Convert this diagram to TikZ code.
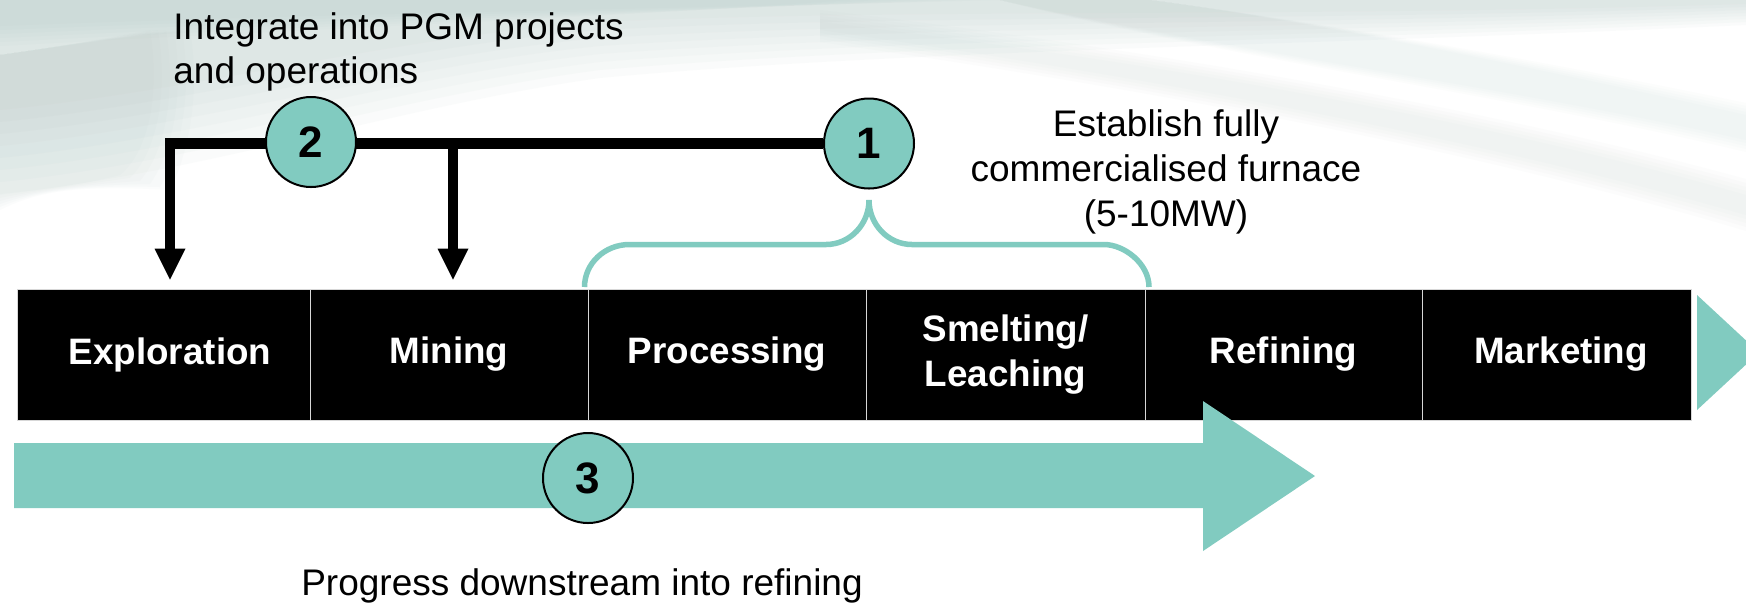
\documentclass[tikz,border=0pt]{standalone}
\usepackage{fontspec}
\setmainfont{Liberation Sans}
\usetikzlibrary{arrows.meta}
\definecolor{teal1}{RGB}{129,203,192}
\definecolor{bgc}{RGB}{170,194,190}
\definecolor{cellline}{RGB}{215,215,215}
\pgfdeclarelayer{back}
\pgfdeclarelayer{lines}
\pgfsetlayers{back,lines,main}
\begin{document}
\begin{tikzpicture}[x=0.5pt,y=-0.5pt,
  cell/.style={rectangle, fill=black, draw=cellline, line width=0.5pt, inner sep=0pt,
    minimum height=65.5pt, text=white, align=center,
    font=\fontsize{18.4}{22.5}\selectfont\bfseries},
  num/.style={circle, fill=teal1, draw=black, line width=1pt, minimum size=45pt,
    inner sep=0pt, font=\fontsize{22}{22}\selectfont\bfseries},
  caption/.style={inner sep=0pt, font=\fontsize{18.5}{22.3}\selectfont},
  thickline/.style={line width=5.5pt},
  droparrow/.style={line width=5pt, shorten >=4.5pt,
    -{Triangle[length=15.5pt,width=15.5pt,line width=0pt]}},
  bracepath/.style={draw=teal1, line width=2.75pt},
  haze/.style={fill=bgc, opacity=0.05}
]
\useasboundingbox (0,0) rectangle (1746,602);
\clip (0,0) rectangle (1746,602);

% soft background swoosh
\begin{pgfonlayer}{back}
\fill[white] (0,0) rectangle (1746,602);
\foreach \k in {0,...,7} {
  \fill[haze] (0,0) -- (1746,0) -- (1746,4+3*\k)
    .. controls (1300,18+4*\k) and (900,8+6*\k) .. (600,22+8*\k)
    .. controls (400,36+10*\k) and (200,90+12*\k) .. (0,110+12*\k) -- cycle;
}
\foreach \k in {0,...,5} {
  \fill[haze] (0,0) -- (1000-30*\k,0)
    .. controls (700-20*\k,8+2*\k) and (300,14+3*\k) .. (0,26+4*\k) -- cycle;
}
\foreach \k in {0,...,5} {
  \fill[haze, opacity=0.04] (0,55) .. controls (50,48) and (100,40) .. (150+8*\k,30)
    .. controls (160+8*\k,90) and (150+8*\k,150) .. (120+10*\k,175+3*\k)
    .. controls (80,185) and (40,190) .. (0,195+3*\k) -- cycle;
}
\foreach \k in {0,...,4} {
  \fill[haze, opacity=0.035] (820,30+3*\k) .. controls (1100,70+3*\k) and (1450,130+3*\k) .. (1746,215+4*\k)
    -- (1746,195-4*\k) .. controls (1450,110-3*\k) and (1100,55-3*\k) .. (820,22-3*\k) -- cycle;
  \fill[haze, opacity=0.03] (1000,0) .. controls (1250,55+2*\k) and (1500,85+2*\k) .. (1746,140+3*\k)
    -- (1746,115-3*\k) .. controls (1500,60-2*\k) and (1300,20) .. (1150,0) -- cycle;
}
\end{pgfonlayer}

% value chain cells
\node[cell, minimum width=146.5pt] (c1) at (163.5,354.5) {\hspace*{6.5pt}Exploration};
\node[cell, minimum width=139pt]   (c2) at (449,354.5)   {Mining};
\node[cell, minimum width=139pt]   (c3) at (727,354.5)   {Processing};
\node[cell, minimum width=139.5pt] (c4) at (1005.5,354.5) {Smelting/\\Leaching};
\node[cell, minimum width=138.5pt] (c5) at (1283.5,354.5) {Refining};
\node[cell, minimum width=134.5pt] (c6) at (1556.5,354.5) {\hspace*{4.5pt}Marketing};

% right chevron
\fill[teal1] (1697,295) -- (1759,352.5) -- (1697,410) -- cycle;

% big downstream arrow
\fill[teal1] (14,443) -- (1203,443) -- (1203,401) -- (1315,476) -- (1203,551)
  -- (1203,508) -- (14,508) -- cycle;

% numbered circles
\node[num] (n2) at (311,142) {2};
\node[num] (n1) at (869,143.5) {1};
\node[num] (n3) at (588,478) {3};

% T-line with drop arrows
\coordinate (j1) at (170,143.5);
\coordinate (j2) at (453,143.5);
\coordinate (hl) at (165,143.5);
\begin{pgfonlayer}{lines}
\draw[thickline] (hl) -- (n1.west);
\draw[droparrow] (j1) -- (j1 |- c1.north);
\draw[droparrow] (j2) -- (j2 |- c2.north);
% brace over Processing and Smelting
\draw[bracepath] (584.5,287) .. controls (584.5,263.5) and (604.6,244.5) .. (629.5,244.5)
  -- (826,244.5) .. controls (849.7,244.5) and (869,224.6) .. (869,200)
  .. controls (869,224.6) and (888.3,244.5) .. (912,244.5)
  -- (1104,244.5) .. controls (1124.1,244.5) and (1149,263.5) .. (1149,287);
\end{pgfonlayer}

% captions
\node[caption, align=left, anchor=north west] (t2) at (173,12)
  {Integrate into PGM projects\\and operations};
\node[caption, align=center, anchor=north, font=\fontsize{18.5}{22.5}\selectfont] (t1) at (1166,109)
  {Establish fully\\commercialised furnace\\(5-10MW)};
\node[caption, anchor=base] (t3) at (582,595) {Progress downstream into refining};
\end{tikzpicture}
\end{document}
